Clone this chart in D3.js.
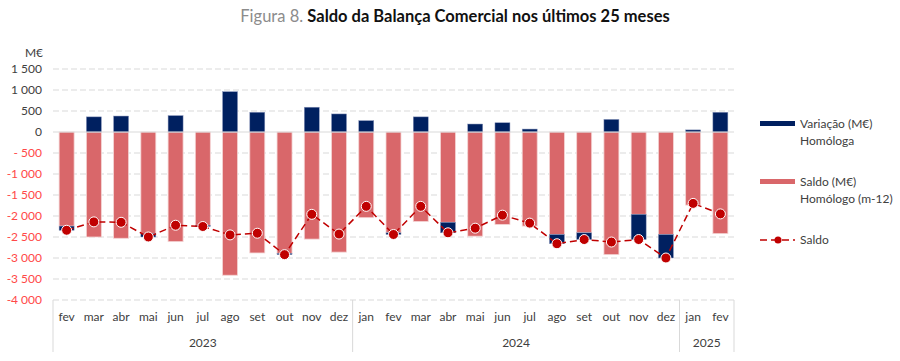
<!DOCTYPE html>
<html>
<head>
<meta charset="utf-8">
<script src="https://cdn.jsdelivr.net/npm/d3@7"></script>
<style>
  body { margin: 0; background: #fff; }
  svg text { font-family: Lato, 'Open Sans', sans-serif; }
</style>
</head>
<body>
<svg id="chart" width="900" height="361"></svg>
<script>
// months, grouped by year
var months = ['fev', 'mar', 'abr', 'mai', 'jun', 'jul', 'ago', 'set', 'out', 'nov', 'dez',
  'jan', 'fev', 'mar', 'abr', 'mai', 'jun', 'jul', 'ago', 'set', 'out', 'nov', 'dez',
  'jan', 'fev']
var years = [
  { label: '2023', from: 0, to: 11 },
  { label: '2024', from: 11, to: 23 },
  { label: '2025', from: 23, to: 25 }
]
// Saldo homólogo (m-12), M€
var saldoHomologo = [-2240, -2500, -2530, -2420, -2610, -2220, -3410, -2880, -2890, -2550, -2860,
  -2040, -2400, -2130, -2150, -2480, -2200, -2240, -2440, -2400, -2920, -1960, -2440,
  -1740, -2420]
// Variação homóloga, M€
var variacao = [-100, 360, 380, -80, 390, -30, 960, 470, -30, 590, 430,
  270, -40, 360, -250, 190, 220, 70, -220, -160, 300, -600, -560,
  50, 470]
// Saldo, M€
var saldo = [-2340, -2140, -2150, -2500, -2220, -2250, -2450, -2410, -2920, -1960, -2430,
  -1770, -2440, -1770, -2400, -2290, -1980, -2170, -2660, -2560, -2620, -2560, -3000,
  -1700, -1950]
var yTicks = [1500, 1000, 500, 0, -500, -1000, -1500, -2000, -2500, -3000, -3500, -4000]

var navy = '#002060'
var red = '#d9676a'
var dotRed = '#c00000'

var svg = d3.select('#chart')
var margin = { left: 53, right: 166, top: 69, bottom: 61 }
var W = 900 - margin.left - margin.right
var H = 361 - margin.top - margin.bottom

var x = d3.scaleBand().domain(d3.range(months.length)).range([margin.left, margin.left + W]).paddingInner(0.45).paddingOuter(0.225)
var y = d3.scaleLinear().domain([-4000, 1500]).range([margin.top + H, margin.top])

// title
var title = svg.append('text').attr('x', 455).attr('y', 22).attr('text-anchor', 'middle')
  .style('font-size', '16.5px')
title.append('tspan').attr('fill', '#8c8c8c').text('Figura 8. ')
title.append('tspan').attr('fill', '#111').style('font-weight', 'bold').text('Saldo da Balança Comercial nos últimos 25 meses')

svg.append('text').attr('x', 34).attr('y', 57).attr('text-anchor', 'middle')
  .style('font-size', '12px').attr('fill', '#404040').text('M€')

// gridlines
svg.append('g').selectAll('line').data(yTicks.filter(function (d) { return d !== 0 }))
  .enter().append('line')
  .attr('x1', margin.left).attr('x2', margin.left + W)
  .attr('y1', function (d) { return y(d) }).attr('y2', function (d) { return y(d) })
  .attr('stroke', '#d9d9d9').attr('stroke-width', 1).attr('stroke-dasharray', '6,3')

// y tick labels
function fmt (v) {
  if (v === -500) return '- 500'
  var s = Math.abs(v) >= 1000 ? Math.floor(Math.abs(v) / 1000) + ' ' + d3.format('03d')(Math.abs(v) % 1000) : String(Math.abs(v))
  return (v < 0 ? '-' : '') + s
}
svg.append('g').selectAll('text').data(yTicks).enter().append('text')
  .attr('x', 42).attr('y', function (d) { return y(d) }).attr('dy', '0.35em')
  .attr('text-anchor', 'end').style('font-size', '12px')
  .attr('fill', function (d) { return d < 0 ? '#ff4848' : '#404040' })
  .text(fmt)

// saldo homologo bars
svg.append('g').selectAll('rect').data(saldoHomologo).enter().append('rect')
  .attr('x', function (d, i) { return x(i) }).attr('width', x.bandwidth())
  .attr('y', y(0)).attr('height', function (d) { return y(d) - y(0) })
  .attr('fill', red).attr('stroke', '#f4d4d4').attr('stroke-width', 0.8)

// variacao bars: positive above zero, negative stacked under the red bar
svg.append('g').selectAll('rect').data(variacao).enter().append('rect')
  .attr('x', function (d, i) { return x(i) }).attr('width', x.bandwidth())
  .attr('y', function (d, i) { return d >= 0 ? y(d) : y(saldoHomologo[i]) })
  .attr('height', function (d) { return Math.abs(y(d) - y(0)) })
  .attr('fill', navy).attr('stroke', '#8a96bb').attr('stroke-width', 0.5)

// zero line
svg.append('line').attr('x1', margin.left).attr('x2', margin.left + W)
  .attr('y1', y(0)).attr('y2', y(0)).attr('stroke', '#d9d9d9').attr('stroke-width', 1.2)

// saldo line
var line = d3.line().x(function (d, i) { return x(i) + x.bandwidth() / 2 }).y(function (d) { return y(d) })
svg.append('path').datum(saldo).attr('d', line).attr('fill', 'none')
  .attr('stroke', dotRed).attr('stroke-width', 1.5).attr('stroke-dasharray', '7,4')
svg.append('g').selectAll('circle').data(saldo).enter().append('circle')
  .attr('cx', function (d, i) { return x(i) + x.bandwidth() / 2 }).attr('cy', function (d) { return y(d) })
  .attr('r', 5).attr('fill', dotRed).attr('stroke', '#fff').attr('stroke-width', 1)

// category axis
var axisTop = margin.top + H
var sepX = [margin.left].concat(years.map(function (yr) { return margin.left + yr.to * x.step() }))
svg.append('g').selectAll('line').data(sepX).enter().append('line')
  .attr('x1', function (d) { return d }).attr('x2', function (d) { return d })
  .attr('y1', axisTop).attr('y2', 352).attr('stroke', '#d9d9d9').attr('stroke-width', 1)
svg.append('g').selectAll('text').data(months).enter().append('text')
  .attr('x', function (d, i) { return x(i) + x.bandwidth() / 2 }).attr('y', 321)
  .attr('text-anchor', 'middle').style('font-size', '12px').attr('fill', '#404040')
  .text(function (d) { return d })
svg.append('g').selectAll('text').data(years).enter().append('text')
  .attr('x', function (d) { return margin.left + (d.from + d.to) / 2 * x.step() }).attr('y', 347)
  .attr('text-anchor', 'middle').style('font-size', '12px').attr('fill', '#404040')
  .text(function (d) { return d.label })

// legend
var lg = svg.append('g').attr('transform', 'translate(760,0)')
lg.append('rect').attr('x', 0).attr('y', 121).attr('width', 35).attr('height', 5).attr('fill', navy)
lg.append('text').attr('x', 40).attr('y', 128).style('font-size', '12px').attr('fill', '#404040').text('Variação (M€)')
lg.append('text').attr('x', 40).attr('y', 145).style('font-size', '12px').attr('fill', '#404040').text('Homóloga')
lg.append('rect').attr('x', 0).attr('y', 179).attr('width', 35).attr('height', 5).attr('fill', red)
lg.append('text').attr('x', 40).attr('y', 186).style('font-size', '12px').attr('fill', '#404040').text('Saldo (M€)')
lg.append('text').attr('x', 40).attr('y', 203).style('font-size', '12px').attr('fill', '#404040').text('Homólogo (m-12)')
lg.append('line').attr('x1', 0).attr('x2', 35).attr('y1', 240).attr('y2', 240)
  .attr('stroke', dotRed).attr('stroke-width', 1.5).attr('stroke-dasharray', '7,4')
lg.append('circle').attr('cx', 18).attr('cy', 240).attr('r', 3.5).attr('fill', dotRed)
lg.append('text').attr('x', 40).attr('y', 244).style('font-size', '12px').attr('fill', '#404040').text('Saldo')
</script>
</body>
</html>
